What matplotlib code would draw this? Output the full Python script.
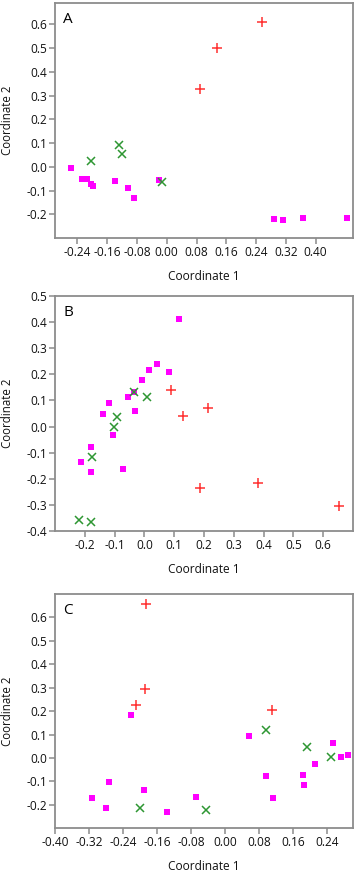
import matplotlib
matplotlib.use("Agg")
import matplotlib.pyplot as plt
import numpy as np

plt.rcParams['font.family'] = ['Open Sans', 'DejaVu Sans']
plt.rcParams['axes.unicode_minus'] = False

# ---------------- Panel A ----------------
a_red_x = [0.257, 0.135, 0.090]
a_red_y = [0.609, 0.500, 0.328]
a_green_x = [-0.128, -0.204, -0.119, -0.013]
a_green_y = [0.092, 0.025, 0.054, -0.066]
a_mag_x = [-0.258, -0.228, -0.213, -0.204, -0.199, -0.140, -0.104, -0.089, -0.021,
           0.288, 0.313, 0.365, 0.483]
a_mag_y = [-0.005, -0.052, -0.052, -0.074, -0.080, -0.059, -0.090, -0.132, -0.056,
           -0.218, -0.224, -0.216, -0.216]
a_xticks = [-0.24, -0.16, -0.08, 0.00, 0.08, 0.16, 0.24, 0.32, 0.40]
a_yticks = [-0.2, -0.1, 0.0, 0.1, 0.2, 0.3, 0.4, 0.5, 0.6]

# ---------------- Panel B ----------------
b_red_x = [0.091, 0.130, 0.215, 0.186, 0.381, 0.655]
b_red_y = [0.140, 0.040, 0.070, -0.237, -0.218, -0.305]
b_green_x = [-0.036, 0.009, -0.092, -0.103, -0.176, -0.220, -0.179]
b_green_y = [0.131, 0.114, 0.035, -0.003, -0.115, -0.358, -0.364]
b_mag_x = [0.117, 0.044, 0.017, 0.082, -0.008, -0.056, -0.036, -0.118, -0.140,
           -0.031, -0.107, -0.180, -0.214, -0.178, -0.072]
b_mag_y = [0.413, 0.240, 0.217, 0.210, 0.180, 0.114, 0.131, 0.090, 0.047,
           0.061, -0.031, -0.078, -0.135, -0.174, -0.163]
b_xticks = [-0.2, -0.1, 0.0, 0.1, 0.2, 0.3, 0.4, 0.5, 0.6]
b_yticks = [-0.4, -0.3, -0.2, -0.1, 0.0, 0.1, 0.2, 0.3, 0.4, 0.5]

# ---------------- Panel C ----------------
c_red_x = [-0.187, -0.188, -0.209, 0.110]
c_red_y = [0.657, 0.296, 0.224, 0.203]
c_green_x = [0.095, 0.193, 0.249, -0.200, -0.045]
c_green_y = [0.121, 0.047, 0.004, -0.212, -0.222]
c_mag_x = [-0.221, 0.057, 0.254, 0.273, 0.288, 0.211, 0.182, 0.186, 0.097, 0.113,
           -0.069, -0.138, -0.190, -0.273, -0.281, -0.313]
c_mag_y = [0.182, 0.094, 0.064, 0.004, 0.013, -0.027, -0.073, -0.115, -0.078, -0.172,
           -0.165, -0.230, -0.136, -0.102, -0.215, -0.171]
c_xticks = [-0.40, -0.32, -0.24, -0.16, -0.08, 0.00, 0.08, 0.16, 0.24]
c_yticks = [-0.2, -0.1, 0.0, 0.1, 0.2, 0.3, 0.4, 0.5, 0.6]

MAG = '#FF00FF'
GRN = '#2E9632'
RED = '#FF3030'
SPINE = '#8C8C8C'

fig = plt.figure(figsize=(3.55, 8.73), dpi=100)

panels = [
    ('A', [0.155, 0.7274, 0.839, 0.2692], (-0.30, 0.50), (-0.30, 0.69),
     a_xticks, a_yticks, '{:.2f}', a_mag_x, a_mag_y, a_green_x, a_green_y, a_red_x, a_red_y),
    ('B', [0.155, 0.3918, 0.839, 0.2692], (-0.30, 0.70), (-0.40, 0.50),
     b_xticks, b_yticks, '{:.1f}', b_mag_x, b_mag_y, b_green_x, b_green_y, b_red_x, b_red_y),
    ('C', [0.155, 0.0512, 0.839, 0.2685], (-0.40, 0.30), (-0.30, 0.70),
     c_xticks, c_yticks, '{:.2f}', c_mag_x, c_mag_y, c_green_x, c_green_y, c_red_x, c_red_y),
]

for (letter, rect, xl, yl, xt, yt, xfmt, mx, my, gx, gy, rx, ry) in panels:
    ax = fig.add_axes(rect)
    ax.plot(mx, my, linestyle='none', marker='s', markersize=4.4,
            color=MAG, markeredgewidth=0, zorder=3)
    ax.plot(gx, gy, linestyle='none', marker='x', markersize=5.6,
            color=GRN, markeredgewidth=1.1, zorder=4)
    ax.plot(rx, ry, linestyle='none', marker='+', markersize=6.5,
            color=RED, markeredgewidth=1.1, zorder=5)
    ax.set_xlim(*xl)
    ax.set_ylim(*yl)
    ax.set_xticks(xt)
    ax.set_xticklabels([xfmt.format(v) for v in xt])
    ax.set_yticks(yt)
    ax.set_yticklabels(['{:.1f}'.format(v) for v in yt])
    for s in ax.spines.values():
        s.set_color(SPINE)
        s.set_linewidth(1.3)
    ax.tick_params(axis='both', direction='out', length=4, width=1.1,
                   color=SPINE, labelsize=8.6, labelcolor='#111111', pad=1.5)
    ax.set_xlabel('Coordinate 1', fontsize=8.6, color='#111111')
    ax.set_ylabel('Coordinate 2', fontsize=8.3, color='#111111')
    ax.xaxis.set_label_coords(0.5, -0.135)
    ax.yaxis.set_label_coords(-0.137, 0.5)
    ax.text(0.027, 0.962, letter, transform=ax.transAxes, ha='left', va='top',
            fontsize=11, color='black')

fig.savefig('out.png', dpi=100)
